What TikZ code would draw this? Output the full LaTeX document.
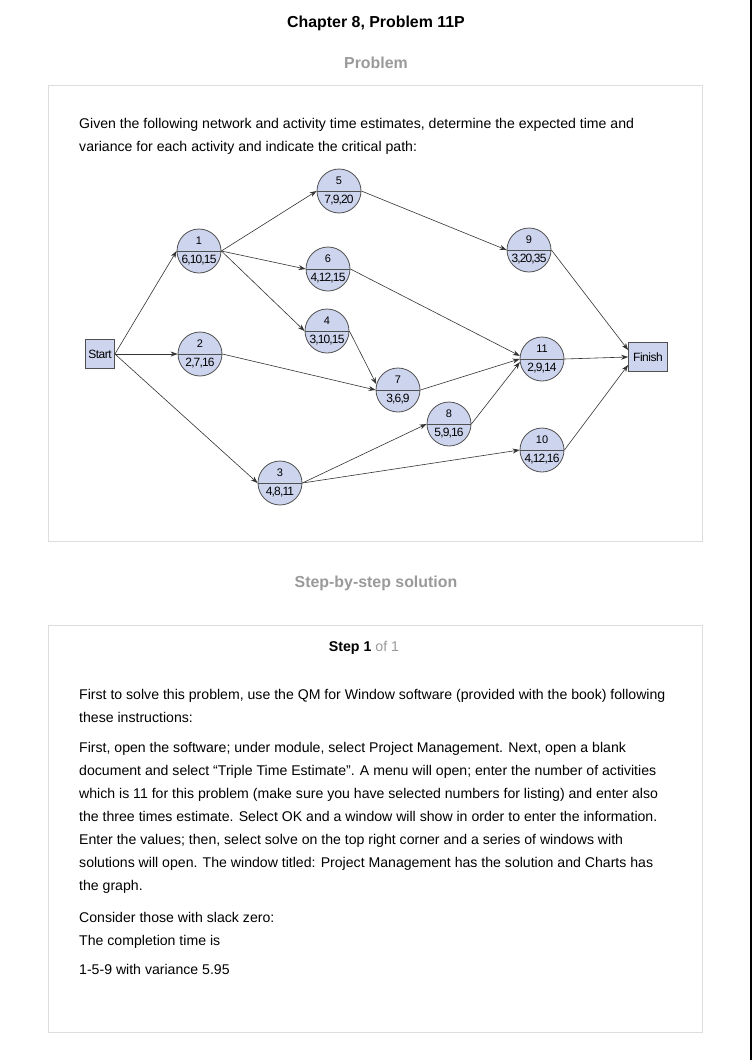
\documentclass[tikz,border=0pt]{standalone}
\usepackage{fontspec}
\setmainfont{Liberation Sans}
\usetikzlibrary{arrows.meta}
\definecolor{evfill}{HTML}{CDD4EE}
\definecolor{evdraw}{HTML}{505050}
\definecolor{boxline}{HTML}{DDDDDD}
\definecolor{headgray}{HTML}{9A9A9A}
\tikzset{
  evt/.style={circle, draw=evdraw, fill=evfill, line width=0.8pt, minimum size=44pt, inner sep=0pt},
  term/.style={rectangle, draw=evdraw, fill=evfill, line width=0.8pt, inner sep=0pt, font=\fontsize{12}{13}\selectfont\addfontfeature{LetterSpace=-4}},
  num/.style={inner sep=0pt, font=\fontsize{11}{12}\selectfont},
  est/.style={inner sep=0pt, font=\fontsize{12}{13}\selectfont},
  conn/.style={draw=black!80, line width=0.6pt, -{Stealth[length=7pt,width=5pt]}},
  body/.style={anchor=base west, inner sep=0pt, font=\fontsize{14.1}{16}\selectfont},
  head/.style={anchor=base, inner sep=0pt, font=\bfseries\fontsize{15.9}{18}\selectfont, text=headgray},
  panel/.style={draw=boxline, line width=1pt}
}
\newcommand{\evnode}[4]{%
  \node[evt] (#1) at (#2) {};
  \draw[evdraw, line width=0.8pt] (#1.west) -- (#1.east);
  \node[num] (#1-n) at ([yshift=10.5pt]#1.center) {#3};
  \node[est] (#1-e) at ([yshift=-9.5pt]#1.center) {\addfontfeature{LetterSpace=-7}#4};
}
\begin{document}
\begin{tikzpicture}[x=1pt, y=-1pt]
\useasboundingbox (0,0) rectangle (752,1060);
\fill[white] (0,0) rectangle (752,1060);
\fill[black] (750,0) rectangle (752,1060);
% headings
\node[anchor=base, inner sep=0pt, font=\bfseries\fontsize{15.9}{18}\selectfont] (title) at (376,27.5) {Chapter 8, Problem 11P};
\node[head] (probhead) at (376,68.5) {Problem};
\draw[panel] (48.5,85.5) rectangle (702.5,541.5);
\node[body] (p1) at (79,128) {Given the following network and activity time estimates, determine the expected time and};
\node[body] (p2) at (79,151) {variance for each activity and indicate the critical path:};
% network
\node[term, minimum width=29pt, minimum height=29pt] (S) at (100,354) {Start};
\node[term, minimum width=39pt, minimum height=29pt] (F) at (648,357) {Finish};
\evnode{n1}{199,251}{1}{6,10,15}
\evnode{n5}{339,191}{5}{7,9,20}
\evnode{n6}{328,269}{6}{4,12,15}
\evnode{n4}{327,331}{4}{3,10,15}
\evnode{n2}{200,354}{2}{2,7,16}
\evnode{n3}{280,483}{3}{4,8,11}
\evnode{n7}{398,390}{7}{3,6,9}
\evnode{n8}{449,424}{8}{5,9,16}
\evnode{n9}{529,250}{9}{3,20,35}
\evnode{n11}{542,359}{11}{2,9,14}
\evnode{n10}{542,450}{10}{4,12,16}
\draw[conn] (S.east) -- (n1.west);
\draw[conn] (S.east) -- (n2.west);
\draw[conn] (S.east) -- (n3.west);
\draw[conn] (n1.east) -- (n5.west);
\draw[conn] (n1.east) -- (n6.west);
\draw[conn] (n1.east) -- (n4.west);
\draw[conn] (n5.east) -- (n9.west);
\draw[conn] (n6.east) -- (n11.172);
\draw[conn] (n4.east) -- (n7.165);
\draw[conn] (n2.east) -- (n7.west);
\draw[conn] (n3.east) -- (n8.west);
\draw[conn] (n3.east) -- (n10.west);
\draw[conn] (n7.east) -- (n11.west);
\draw[conn] (n8.east) -- (n11.188);
\draw[conn] (n9.east) -- ([yshift=7pt]F.west);
\draw[conn] (n11.east) -- (F.west);
\draw[conn] (n10.east) -- ([yshift=-8pt]F.west);
% solution
\node[head] (solhead) at (376,587.5) {Step-by-step solution};
\draw[panel] (48.5,625.5) rectangle (702.5,1032.5);
\node[anchor=base, inner sep=0pt, font=\fontsize{14.2}{16}\selectfont] (step) at (364,651) {\textbf{Step 1} \textcolor{headgray}{of 1}};
\node[body] (s1) at (79,699) {First to solve this problem, use the QM for Window software (provided with the book) following};
\node[body] (s2) at (79,722) {these instructions:};
\node[body] (s3) at (79,752) {First, open the software; under module, select Project Management. Next, open a blank};
\node[body] (s4) at (79,775) {document and select “Triple Time Estimate”. A menu will open; enter the number of activities};
\node[body] (s5) at (79,798) {which is 11 for this problem (make sure you have selected numbers for listing) and enter also};
\node[body] (s6) at (79,821) {the three times estimate. Select OK and a window will show in order to enter the information.};
\node[body] (s7) at (79,844) {Enter the values; then, select solve on the top right corner and a series of windows with};
\node[body] (s8) at (79,867) {solutions will open. The window titled: Project Management has the solution and Charts has};
\node[body] (s9) at (79,890) {the graph.};
\node[body] (s10) at (79,922) {Consider those with slack zero:};
\node[body] (s11) at (79,945) {The completion time is};
\node[body] (s12) at (79,974) {1-5-9 with variance 5.95};
\end{tikzpicture}
\end{document}
